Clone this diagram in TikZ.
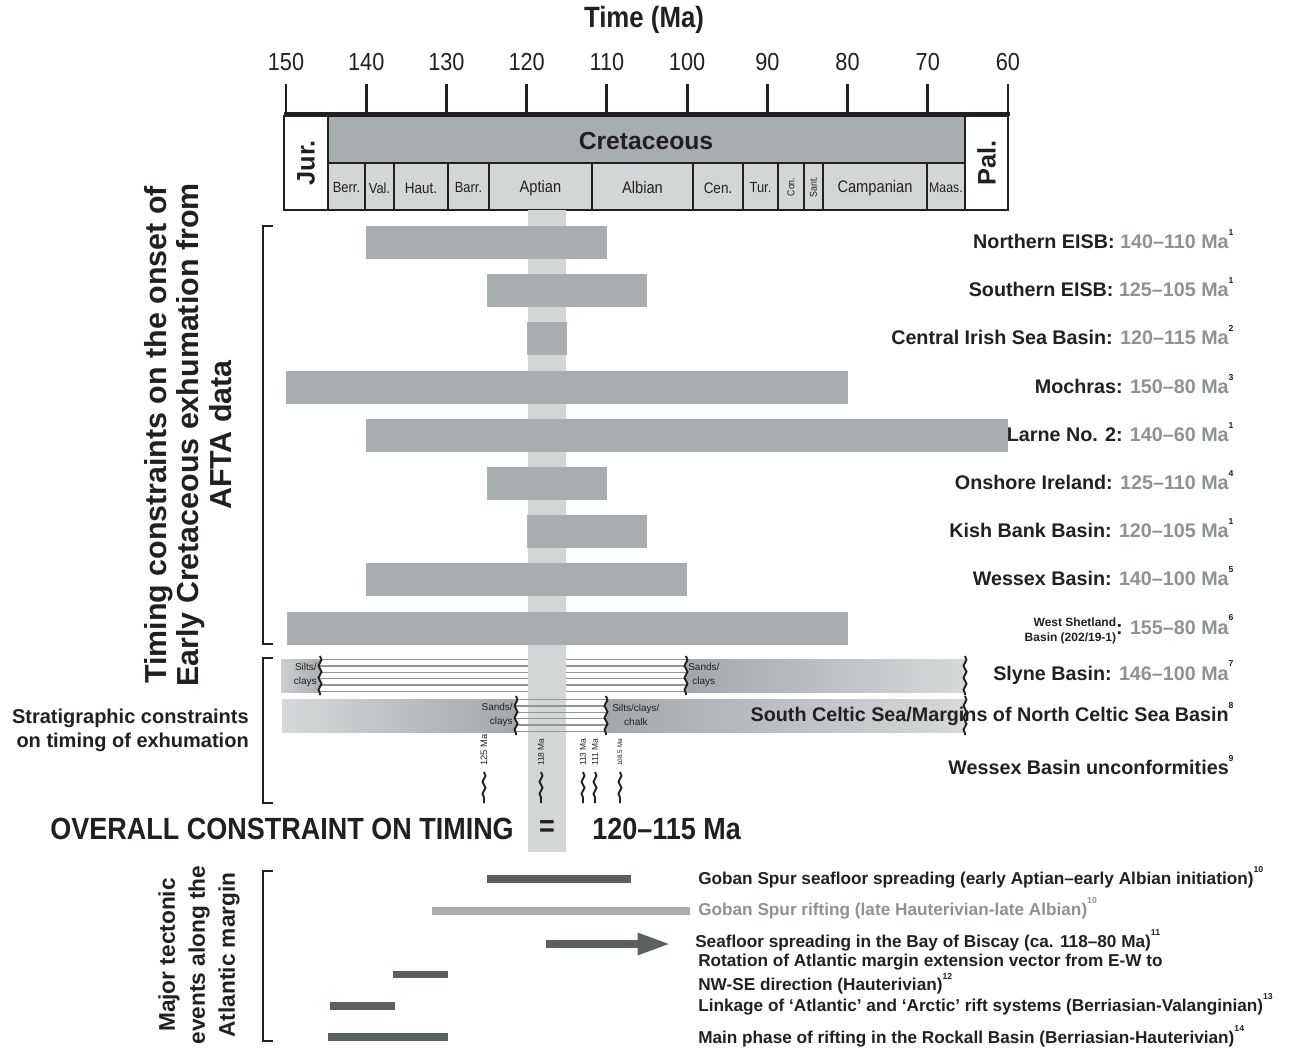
\documentclass[tikz,border=0pt]{standalone}
\usepackage{fontspec}
\setmainfont{Liberation Sans}
\newfontfamily\narrowfont[FakeStretch=0.88]{Liberation Sans}
\usetikzlibrary{arrows.meta, positioning, decorations.pathmorphing}

\definecolor{bargray}{HTML}{A8AEB0}
\definecolor{bandgray}{HTML}{D2D6D7}
\definecolor{darkbar}{HTML}{5A605F}
\definecolor{labgray}{HTML}{8B9393}
\definecolor{inkblack}{HTML}{231F20}
\definecolor{hatchgray}{HTML}{8E9496}
\definecolor{shadelight}{HTML}{D6D9DA}
\definecolor{shadedark}{HTML}{A3A8AB}

\newcommand{\fsz}[2]{\fontsize{#1}{#2}\selectfont}
\newcommand{\refno}[2][9.8pt]{\rlap{\smash{\raisebox{#1}{\fsz{6.5pt}{6.5pt}#2}}}}

\begin{document}
\begin{tikzpicture}[
    x=0.75pt, y=-0.75pt,
    declare function={tx(\m)=286+(150-\m)*8.022;},
    lab/.style={anchor=base east, inner sep=0pt, font=\bfseries\fsz{14.8pt}{18pt}, text=inkblack},
    stagelab/.style={inner sep=0pt, text=inkblack},
    smalltxt/.style={inner sep=0pt, font=\fsz{7.5pt}{10pt}, text=inkblack},
    evlab/.style={anchor=base west, inner sep=0pt, font=\bfseries\fsz{12.9pt}{18pt}, text=inkblack},
    evbar/.style={draw=darkbar, line width=5.6pt},
    evarrow/.style={draw=darkbar, line width=6pt, -{Triangle[length=25pt, width=15pt]}},
    wavy/.style={draw=inkblack, line width=1.4pt, decorate, decoration={snake, amplitude=1.1pt, segment length=9pt}},
    hatch/.style={draw=hatchgray, line width=1pt},
    bracket/.style={draw=inkblack, line width=1.5pt},
  ]
    \useasboundingbox (0,0) rectangle (1289,1049);

    % time axis
    \node[font=\narrowfont\bfseries\fsz{22pt}{22pt}, text=inkblack] (title) at (644,20) {Time (Ma)};
    \foreach \t in {150,140,...,60} {
      \draw[inkblack, line width=2.2pt] ({tx(\t)},84) -- ({tx(\t)},114);
      \node[font=\narrowfont\fsz{18.5pt}{18.5pt}, text=inkblack] (tick\t) at ({tx(\t)},62) {\t};
    }
    \draw[inkblack, line width=3.6pt] (284,114) -- (1010,114);

    % geological time scale
    \fill[bargray] (328,116) rectangle (965,163);
    \foreach \a/\b in {328/365, 365/394, 394/448, 448/489, 489/592, 592/693, 693/743, 743/778, 778/804, 804/823, 823/927, 927/965}
      \filldraw[fill=bandgray, draw=inkblack, line width=1.3pt] (\a,163) rectangle (\b,210);
    \draw[inkblack, line width=1.5pt] (328,116) -- (328,210) (965,116) -- (965,210) (328,163) -- (965,163);
    \draw[inkblack, line width=1.9pt] (284,116) rectangle (1008,210);
    \node[font=\bfseries\fsz{19pt}{19pt}, rotate=90, text=inkblack] (jur) at (306,163) {Jur.};
    \node[font=\bfseries\fsz{19pt}{19pt}, rotate=90, text=inkblack] (pal) at (986.5,163) {Pal.};
    \node[font=\bfseries\fsz{18.5pt}{18.5pt}, text=inkblack] (cret) at (646,141) {Cretaceous};
    \foreach \id/\a/\b/\nm/\sz in {berr/328/365/Berr./11, val/365/394/Val./11, haut/394/448/Haut./11.5, barr/448/489/Barr./11, apt/489/592/Aptian/12.5, alb/592/693/Albian/12.5, cen/693/743/Cen./11.5, tur/743/778/Tur./11, camp/823/927/Campanian/12.5, maas/927/965/Maas./10.5}
      \node[stagelab, font=\narrowfont\fsz{\sz pt}{\sz pt}] (st-\id) at ({(\a+\b)/2},188) {\nm};
    \node[stagelab, rotate=90, font=\narrowfont\fsz{7.5pt}{7.5pt}] (st-con) at (791,187) {Con.};
    \node[stagelab, rotate=90, font=\narrowfont\fsz{7.5pt}{7.5pt}] (st-sant) at (813.5,187) {Sant.};

    % overall window 120-115 Ma
    \fill[bandgray] (528,210) rectangle (566,852);

    % AFTA constraints
    \foreach \i/\s/\e in {0/140/110, 1/125/105, 2/120/115, 3/150/80, 4/140/60, 5/125/110, 6/120/105, 7/140/100}
      \fill[bargray] ({tx(\s)},{226+48.2*\i}) rectangle ({tx(\e)},{259+48.2*\i});
    \fill[bargray] (287,611.6) rectangle ({tx(80)},644.6);
    \foreach \i/\id/\nm/\rng/\rf in {0/neisb/Northern EISB/140–110/1, 1/seisb/Southern EISB/125–105/1, 2/cisb/Central Irish Sea Basin/120–115/2, 3/moch/Mochras/150–80/3, 4/larne/Larne No. 2/140–60/1, 5/onsh/Onshore Ireland/125–110/4, 6/kish/Kish Bank Basin/120–105/1, 7/wess/Wessex Basin/140–100/5}
      \node[lab] (lb-\id) at (1229,{248.5+48.2*\i}) {\nm: \textcolor{labgray}{\rng~Ma}\refno{\rf}};
    \node[lab] (lb-wsb) at (1229,634) {{\fsz{9pt}{11.5pt}\begin{tabular}{@{}r@{}}West Shetland\\Basin (202/19-1)\end{tabular}}: \textcolor{labgray}{155–80~Ma}\refno{6}};

    % Slyne Basin
    \shade[left color=shadelight!80!shadedark, right color=shadedark!85!shadelight] (281,659) rectangle (320,692);
    \foreach \k in {0,...,5} {
      \draw[hatch] (320,{659.5+6.4*\k}) -- (528,{659.5+6.4*\k});
      \draw[hatch] (566,{659.5+6.4*\k}) -- (686,{659.5+6.4*\k});
    }
    \shade[left color=shadedark, right color=shadelight] (686,659) rectangle (965,692);
    \node[smalltxt, align=right, anchor=east] (sly-silt) at (317,675) {Silts/\\clays};
    \node[smalltxt, align=center, anchor=west] (sly-sand) at (688,675) {Sands/\\clays};
    \foreach \x in {320,686,965} \draw[wavy] (\x,656) -- (\x,695);
    \node[lab] (lb-slyne) at (1229,680) {Slyne Basin: \textcolor{labgray}{146–100~Ma}\refno{7}};

    % South Celtic Sea
    \shade[left color=shadelight, right color=shadedark] (282,699) rectangle (516,732);
    \fill[white] (516,699) rectangle (528,732) (566,699) rectangle (606,732);
    \foreach \k in {0,...,5}
      \draw[hatch] (516,{699.5+6.4*\k}) -- (606,{699.5+6.4*\k});
    \shade[left color=shadedark, right color=shadelight] (606,699) rectangle (965,732);
    \node[smalltxt, align=right, anchor=east] (scs-sand) at (513,715) {Sands/\\clays};
    \node[smalltxt, align=center, anchor=west] (scs-silt) at (612,715) {Silts/clays/\\chalk};
    \node[lab] (lb-scs) at (1229,721.5) {South Celtic Sea/Margins of North Celtic Sea Basin\refno{8}};
    \foreach \x in {516,606,965} \draw[wavy] (\x,696) -- (\x,735);

    % Wessex Basin unconformities
    \foreach \id/\x/\txt/\sz in {u125/484/125 Ma/7, u118/541/118 Ma/6.3, u113/583/113 Ma/6.3, u111/595/111 Ma/6.3, u108/620/108.5 Ma/4.8} {
      \node[rotate=90, anchor=west, inner sep=0pt, font=\fsz{\sz pt}{\sz pt}, text=inkblack] (lb-\id) at (\x,766) {\txt};
      \draw[wavy] (\x,772) -- (\x,803);
    }
    \node[lab] (lb-wunc) at (1229,774.5) {Wessex Basin unconformities\refno{9}};

    % overall constraint
    \node[font=\narrowfont\bfseries\fsz{23pt}{23pt}, anchor=east, inner sep=0pt, text=inkblack] (overall) at (514,829) {OVERALL CONSTRAINT ON TIMING};
    \node[font=\narrowfont\bfseries\fsz{23pt}{23pt}, inner sep=0pt, text=inkblack] (equals) at (547,829) {=};
    \node[font=\narrowfont\bfseries\fsz{23pt}{23pt}, anchor=west, inner sep=0pt, text=inkblack] (window) at (592,829) {120–115 Ma};

    % tectonic events
    \draw[evbar] (487,879) -- (631,879);
    \draw[evbar, draw=bargray] (432,911) -- (690,911);
    \coordinate (bob-tail) at (546,944);
    \coordinate (bob-head) at (671,944);
    \draw[evarrow] (bob-tail) -- (bob-head);
    \draw[evbar] (393,974.5) -- (448,974.5);
    \draw[evbar] (330,1006) -- (395,1006);
    \draw[evbar] (328,1037) -- (448,1037);
    \node[evlab] (ev-gss) at (698,884) {Goban Spur seafloor spreading (early Aptian–early Albian initiation)\refno[8.5pt]{10}};
    \node[evlab, text=labgray] (ev-gsr) at (698,915) {Goban Spur rifting (late Hauterivian-late Albian)\refno[8.5pt]{10}};
    \node[evlab] (ev-bob) at (695,947) {Seafloor spreading in the Bay of Biscay (ca. 118–80 Ma)\refno[8.5pt]{11}};
    \node[evlab, anchor=west, align=left] (ev-rot) at (698,974) {Rotation of Atlantic margin extension vector from E-W to\\NW-SE direction (Hauterivian)\refno[8.5pt]{12}};
    \node[evlab] (ev-link) at (698,1011) {Linkage of ‘Atlantic’ and ‘Arctic’ rift systems (Berriasian-Valanginian)\refno[8.5pt]{13}};
    \node[evlab] (ev-rock) at (698,1043) {Main phase of rifting in the Rockall Basin (Berriasian-Hauterivian)\refno[8.5pt]{14}};

    % group labels and brackets
    \draw[bracket] (273,226) -- (263,226) -- (263,644) -- (273,644);
    \draw[bracket] (273,658) -- (263,658) -- (263,803) -- (273,803);
    \draw[bracket] (273,871) -- (263,871) -- (263,1041) -- (273,1041);
    \node[font=\bfseries\fsz{22.8pt}{24.4pt}, align=center, rotate=90, text=inkblack] (afta) at (188,435) {Timing constraints on the onset of\\Early Cretaceous exhumation from\\AFTA data};
    \node[font=\bfseries\fsz{15pt}{18pt}, align=right, anchor=east, inner sep=0pt, text=inkblack] (strat) at (249,730) {Stratigraphic constraints\\on timing of exhumation};
    \node[font=\bfseries\fsz{17pt}{22.5pt}, align=center, rotate=90, text=inkblack] (tect) at (199,955) {Major tectonic\\events along the\\Atlantic margin};
  \end{tikzpicture}
\end{document}
